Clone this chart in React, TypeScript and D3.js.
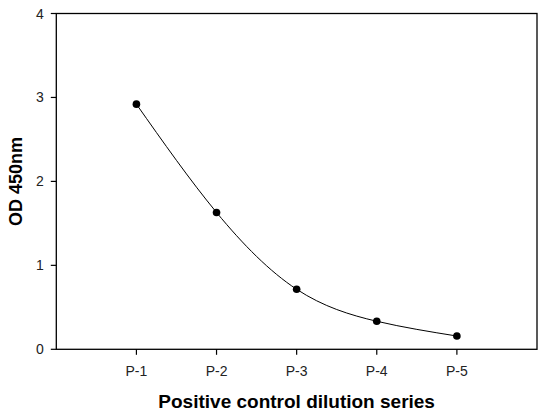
import React from 'react';
import * as d3 from 'd3';

const categories = ['P-1', 'P-2', 'P-3', 'P-4', 'P-5'];
const odValues = [2.92, 1.63, 0.715, 0.334, 0.158];
const yTicks = [0, 1, 2, 3, 4];

const W = 549;
const H = 416;
const margin = { top: 13.5, right: 12, bottom: 66.7, left: 56.3 };

const App: React.FC = () => {
  const x = d3.scaleLinear().domain([0, 6]).range([margin.left, W - margin.right]);
  const y = d3.scaleLinear().domain([0, 4]).range([H - margin.bottom, margin.top]);

  const pts = odValues.map((v, i) => [x(i + 1), y(v)] as [number, number]);
  const line = d3.line().curve(d3.curveNatural)(pts) || '';

  const font = 'Liberation Sans, Arial, sans-serif';
  const x0 = x.range()[0];
  const x1 = x.range()[1];
  const y0 = y.range()[0];
  const y1 = y.range()[1];

  return (
    <div style={{ position: 'fixed', left: 0, top: 0, background: '#fff' }}>
      <svg width={W} height={H} style={{ display: 'block' }} fontFamily={font}>
        <rect width={W} height={H} fill="#fff" />
        {/* frame */}
        <rect x={x0} y={y1} width={x1 - x0} height={y0 - y1} fill="none" stroke="#000" strokeWidth={1.3} />

        {/* y ticks */}
        {yTicks.map(t => (
          <g key={t}>
            <line x1={x0 - 5.5} x2={x0} y1={y(t)} y2={y(t)} stroke="#000" strokeWidth={1.2} />
            <text x={x0 - 12.5} y={y(t)} dy="0.36em" textAnchor="end" fontSize={14} fill="#222">{t}</text>
          </g>
        ))}

        {/* x ticks */}
        {categories.map((c, i) => (
          <g key={c}>
            <line x1={x(i + 1)} x2={x(i + 1)} y1={y0} y2={y0 + 5.5} stroke="#000" strokeWidth={1.2} />
            <text x={x(i + 1)} y={375.5} textAnchor="middle" fontSize={14} fill="#222">{c}</text>
          </g>
        ))}

        {/* curve + points */}
        <path d={line} fill="none" stroke="#000" strokeWidth={1} />
        {pts.map((p, i) => (
          <circle key={i} cx={p[0]} cy={p[1]} r={3.8} fill="#000" />
        ))}

        {/* axis titles */}
        <text x={(x0 + x1) / 2} y={408} textAnchor="middle" fontSize={19} fontWeight="bold" fill="#000">
          Positive control dilution series
        </text>
        <text
          transform={`translate(21.5,${(y0 + y1) / 2}) rotate(-90)`}
          textAnchor="middle"
          fontSize={18}
          fontWeight="bold"
          fill="#000"
        >
          OD 450nm
        </text>
      </svg>
    </div>
  );
};

export default App;
